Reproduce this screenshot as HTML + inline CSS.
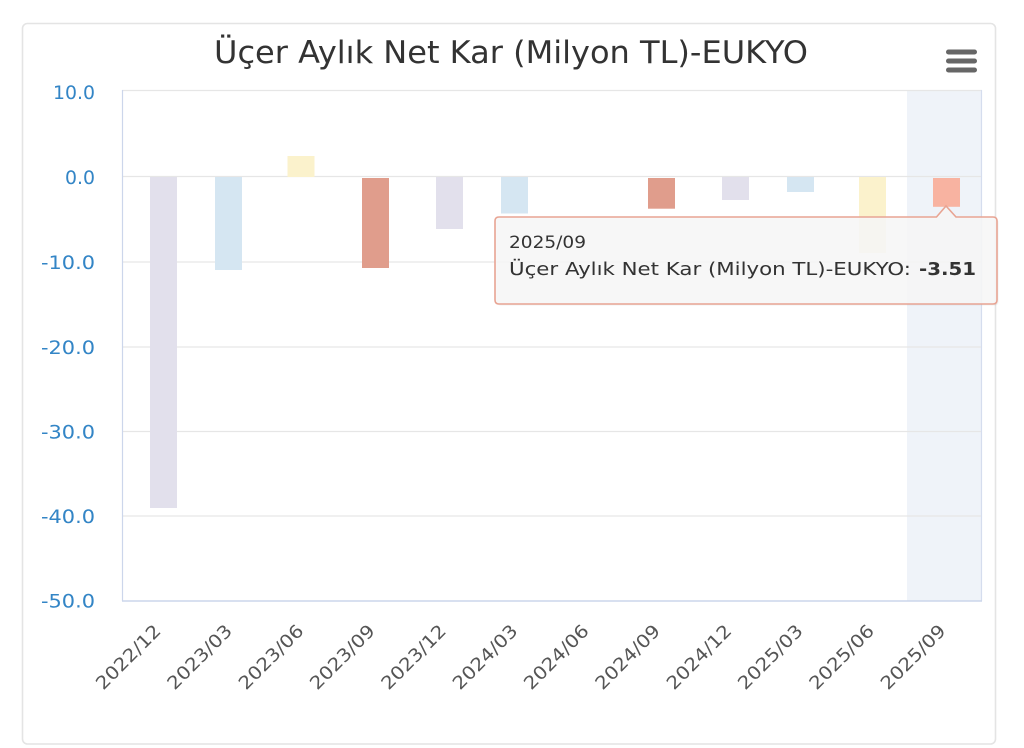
<!DOCTYPE html>
<html><head><meta charset="utf-8"><style>
html,body{margin:0;padding:0;background:#fff;}
svg{display:block;}
text{font-family:"DejaVu Sans","Liberation Sans",sans-serif;}
</style></head><body>
<svg width="1024" height="748" viewBox="0 0 1024 748" xmlns="http://www.w3.org/2000/svg">
<rect x="0" y="0" width="1024" height="748" fill="#fff"/>
<rect x="22.5" y="23.5" width="973" height="720.5" rx="5" ry="5" fill="#fff" stroke="#e4e4e4" stroke-width="1.6"/>
<!-- title -->
<text x="214" y="63" font-size="31" fill="#333" textLength="594" lengthAdjust="spacingAndGlyphs">Üçer Aylık Net Kar (Milyon TL)-EUKYO</text>
<!-- menu icon -->
<rect x="946" y="49.5" width="31" height="5" rx="2.5" fill="#666"/>
<rect x="946" y="58.5" width="31" height="5" rx="2.5" fill="#666"/>
<rect x="946" y="67.5" width="31" height="5" rx="2.5" fill="#666"/>
<!-- hover band -->
<rect x="907" y="90" width="74" height="511" fill="#eff3f9"/>
<!-- gridlines -->
<g stroke="#e6e6e6" stroke-width="1.2">
<line x1="122" y1="90.5" x2="982" y2="90.5"/>
<line x1="122" y1="176.5" x2="982" y2="176.5"/>
<line x1="122" y1="262" x2="982" y2="262"/>
<line x1="122" y1="347" x2="982" y2="347"/>
<line x1="122" y1="431.5" x2="982" y2="431.5"/>
<line x1="122" y1="516" x2="982" y2="516"/>
</g>
<line x1="122.5" y1="90" x2="122.5" y2="601" stroke="#ccd6eb" stroke-width="1.2"/>
<line x1="981.5" y1="90" x2="981.5" y2="601" stroke="#d5ddee" stroke-width="1.2"/>
<line x1="122" y1="601" x2="982" y2="601" stroke="#ccd6eb" stroke-width="1.5"/>
<!-- bars -->
<rect x="150" y="177" width="27" height="331" fill="#e2e0ec"/>
<rect x="215" y="177" width="27" height="93" fill="#d5e6f2"/>
<rect x="287.5" y="156" width="27" height="21" fill="#fbf2cc"/>
<rect x="362" y="178" width="27" height="90" fill="#e09d8c"/>
<rect x="436" y="177" width="27" height="52" fill="#e2e0ec"/>
<rect x="501" y="177" width="27" height="36.5" fill="#d5e6f2"/>
<rect x="648" y="178" width="27" height="30.7" fill="#e09d8c"/>
<rect x="722" y="177" width="27" height="23" fill="#e2e0ec"/>
<rect x="787" y="177" width="27" height="15" fill="#d5e6f2"/>
<rect x="859" y="177" width="27" height="76" fill="#fbf2cc"/>
<rect x="933" y="178" width="27" height="28.8" fill="#f8b3a1"/>
<!-- y labels -->
<g font-size="19" fill="#3385c6" text-anchor="end">
<text x="95" y="99" textLength="42" lengthAdjust="spacingAndGlyphs">10.0</text>
<text x="95" y="184" textLength="30" lengthAdjust="spacingAndGlyphs">0.0</text>
<text x="95" y="269" textLength="54" lengthAdjust="spacingAndGlyphs">-10.0</text>
<text x="95" y="354" textLength="54" lengthAdjust="spacingAndGlyphs">-20.0</text>
<text x="95" y="438.5" textLength="54" lengthAdjust="spacingAndGlyphs">-30.0</text>
<text x="95" y="523" textLength="54" lengthAdjust="spacingAndGlyphs">-40.0</text>
<text x="95" y="607.5" textLength="54" lengthAdjust="spacingAndGlyphs">-50.0</text>
</g>
<!-- x labels -->
<g font-size="18" fill="#555" text-anchor="end">
<text transform="translate(162,632) rotate(-45)" textLength="83" lengthAdjust="spacingAndGlyphs">2022/12</text>
<text transform="translate(233.3,632) rotate(-45)" textLength="83" lengthAdjust="spacingAndGlyphs">2023/03</text>
<text transform="translate(304.7,632) rotate(-45)" textLength="83" lengthAdjust="spacingAndGlyphs">2023/06</text>
<text transform="translate(376,632) rotate(-45)" textLength="83" lengthAdjust="spacingAndGlyphs">2023/09</text>
<text transform="translate(447.3,632) rotate(-45)" textLength="83" lengthAdjust="spacingAndGlyphs">2023/12</text>
<text transform="translate(518.7,632) rotate(-45)" textLength="83" lengthAdjust="spacingAndGlyphs">2024/03</text>
<text transform="translate(590,632) rotate(-45)" textLength="83" lengthAdjust="spacingAndGlyphs">2024/06</text>
<text transform="translate(661.3,632) rotate(-45)" textLength="83" lengthAdjust="spacingAndGlyphs">2024/09</text>
<text transform="translate(732.7,632) rotate(-45)" textLength="83" lengthAdjust="spacingAndGlyphs">2024/12</text>
<text transform="translate(804,632) rotate(-45)" textLength="83" lengthAdjust="spacingAndGlyphs">2025/03</text>
<text transform="translate(875.3,632) rotate(-45)" textLength="83" lengthAdjust="spacingAndGlyphs">2025/06</text>
<text transform="translate(946.7,632) rotate(-45)" textLength="83" lengthAdjust="spacingAndGlyphs">2025/09</text>
</g>
<!-- tooltip -->
<path d="M 499 217 L 936.5 217 L 946 206 L 956 217 L 993 217 Q 997 217 997 221 L 997 300 Q 997 304 993 304 L 499 304 Q 495 304 495 300 L 495 221 Q 495 217 499 217 Z" fill="#000" fill-opacity="0.05" transform="translate(1.5,1.5)"/>
<path d="M 499 217 L 936.5 217 L 946 206 L 956 217 L 993 217 Q 997 217 997 221 L 997 300 Q 997 304 993 304 L 499 304 Q 495 304 495 300 L 495 221 Q 495 217 499 217 Z" fill="#f7f7f7" fill-opacity="0.88" stroke="#e8a493" stroke-width="1.6"/>
<text x="509" y="248" font-size="17" fill="#333" textLength="77" lengthAdjust="spacingAndGlyphs">2025/09</text>
<text x="509" y="275" font-size="18" fill="#333" textLength="402" lengthAdjust="spacingAndGlyphs">Üçer Aylık Net Kar (Milyon TL)-EUKYO:</text>
<text x="919" y="275" font-size="18" font-weight="bold" fill="#333" textLength="57" lengthAdjust="spacingAndGlyphs">-3.51</text>
</svg>
</body></html>
